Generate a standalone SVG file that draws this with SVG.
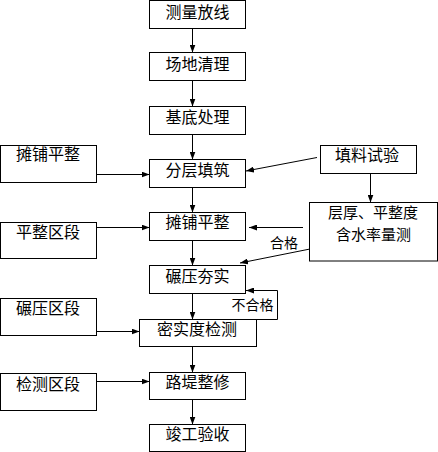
<svg xmlns="http://www.w3.org/2000/svg" width="438" height="452" viewBox="0 0 438 452">
<style>
.box{fill:#fff;stroke:#000;stroke-width:1}
.t{font-family:"Noto Sans CJK SC","Liberation Sans",sans-serif;font-size:16px;fill:#000;text-anchor:middle}
.s{font-size:14px}
.m{font-size:15px}
.c{fill:none;stroke:#000;stroke-width:1}
</style>
<defs>
<marker id="ah" viewBox="0 0 8 6" refX="8" refY="3" markerWidth="8" markerHeight="6" orient="auto" markerUnits="userSpaceOnUse"><path d="M0,0 L8,3 L0,6 z" fill="#000"/></marker>
</defs>
<rect x="0" y="0" width="438" height="452" fill="#fff"/>
<g id="connectors">
<line class="c" x1="192.5" y1="28.5" x2="192.5" y2="52.5" marker-end="url(#ah)"/>
<line class="c" x1="192.5" y1="80.5" x2="192.5" y2="106.5" marker-end="url(#ah)"/>
<line class="c" x1="192.5" y1="134.5" x2="192.5" y2="159.5" marker-end="url(#ah)"/>
<line class="c" x1="192.5" y1="187.5" x2="192.5" y2="212.5" marker-end="url(#ah)"/>
<line class="c" x1="192.5" y1="240.5" x2="192.5" y2="265.5" marker-end="url(#ah)"/>
<line class="c" x1="192.5" y1="293.5" x2="192.5" y2="319.5" marker-end="url(#ah)"/>
<line class="c" x1="192.5" y1="346.5" x2="192.5" y2="372.5" marker-end="url(#ah)"/>
<line class="c" x1="192.5" y1="399.5" x2="192.5" y2="424.5" marker-end="url(#ah)"/>
<line class="c" x1="96.5" y1="174.5" x2="149.5" y2="174.5" marker-end="url(#ah)"/>
<line class="c" x1="96.5" y1="227.5" x2="149.5" y2="227.5" marker-end="url(#ah)"/>
<line class="c" x1="96.5" y1="331.5" x2="139.5" y2="331.5" marker-end="url(#ah)"/>
<line class="c" x1="96.5" y1="381.5" x2="149.5" y2="381.5" marker-end="url(#ah)"/>
<line class="c" x1="317" y1="157.5" x2="246" y2="171" marker-end="url(#ah)"/>
<line class="c" x1="370.5" y1="173.5" x2="370.5" y2="202.5" marker-end="url(#ah)"/>
<line class="c" x1="303" y1="227.5" x2="249" y2="227.5" marker-end="url(#ah)"/>
<line class="c" x1="310" y1="249" x2="240" y2="263" marker-end="url(#ah)"/>
<polyline class="c" points="256.5,319.5 277.5,319.5 277.5,290.5 246,290.5" marker-end="url(#ah)"/>
</g>
<g id="n1"><rect class="box" x="149.5" y="0.5" width="96" height="28"/><text class="t" x="197.5" y="17.5">测量放线</text></g>
<g id="n2"><rect class="box" x="149.5" y="52.5" width="96" height="28"/><text class="t" x="197.5" y="69.5">场地清理</text></g>
<g id="n3"><rect class="box" x="149.5" y="106.5" width="96" height="28"/><text class="t" x="197.5" y="123">基底处理</text></g>
<g id="n4"><rect class="box" x="149.5" y="159.5" width="96" height="28"/><text class="t" x="197.5" y="176">分层填筑</text></g>
<g id="n5"><rect class="box" x="149.5" y="212.5" width="96" height="28"/><text class="t" x="197.5" y="228">摊铺平整</text></g>
<g id="n6"><rect class="box" x="149.5" y="265.5" width="96" height="28"/><text class="t" x="197.5" y="281.5">碾压夯实</text></g>
<g id="n7"><rect class="box" x="139.5" y="319.5" width="117" height="27"/><text class="t" x="197" y="335">密实度检测</text></g>
<g id="n8"><rect class="box" x="149.5" y="372.5" width="96" height="27"/><text class="t" x="197.5" y="388">路堤整修</text></g>
<g id="n9"><rect class="box" x="149.5" y="424.5" width="96" height="27"/><text class="t" x="197.5" y="439.5">竣工验收</text></g>
<g id="l1"><rect class="box" x="0.5" y="145.5" width="96" height="37"/><text class="t" x="48" y="160">摊铺平整</text></g>
<g id="l2"><rect class="box" x="0.5" y="222.5" width="96" height="36"/><text class="t" x="48" y="237.5">平整区段</text></g>
<g id="l3"><rect class="box" x="0.5" y="298.5" width="96" height="37"/><text class="t" x="48" y="314">碾压区段</text></g>
<g id="l4"><rect class="box" x="0.5" y="373.5" width="96" height="37"/><text class="t" x="48" y="389.5">检测区段</text></g>
<g id="r1"><rect class="box" x="320.5" y="145.5" width="96" height="28"/><text class="t" x="367" y="160.5">填料试验</text></g>
<g id="r2"><rect class="box" x="309.5" y="202.5" width="128" height="58.5"/><text class="t m" x="373" y="217.5">层厚、平整度</text><text class="t m" x="373.5" y="239.5">含水率量测</text></g>
<g id="lbl1"><text class="t s" x="284" y="247.5">合格</text></g>
<g id="lbl2"><text class="t s" x="252.5" y="310">不合格</text></g>
</svg>
